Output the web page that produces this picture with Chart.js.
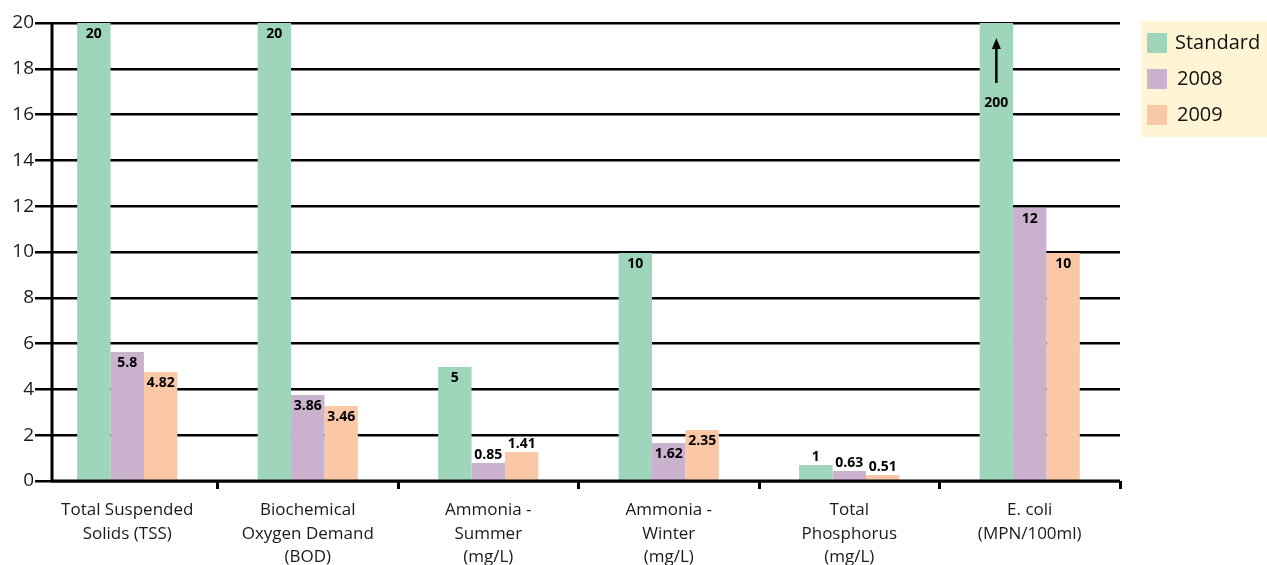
<!DOCTYPE html>
<html>
<head>
<meta charset="utf-8">
<script src="https://cdn.jsdelivr.net/npm/chart.js@4.4.1/dist/chart.umd.min.js"></script>
<style>
  html, body { margin: 0; padding: 0; background: #fff; }
  #wrap { width: 1267px; height: 565px; position: relative; }
</style>
</head>
<body>
<div id="wrap"><canvas id="waterChart"></canvas></div>
<script>
const categories = [
    ['Total Suspended', 'Solids (TSS)'],
    ['Biochemical', 'Oxygen Demand', '(BOD)'],
    ['Ammonia -', 'Summer', '(mg/L)'],
    ['Ammonia -', 'Winter', '(mg/L)'],
    ['Total', 'Phosphorus', '(mg/L)'],
    ['E. coli', '(MPN/100ml)']
]

// bar heights as drawn in the picture
const standardValues = [20, 20, 4.98, 9.96, 0.70, 200]
const values2008 = [5.63, 3.76, 0.79, 1.66, 0.44, 11.92]
const values2009 = [4.76, 3.28, 1.27, 2.23, 0.26, 9.96]

// value labels printed on the bars
const standardLabels = ['20', '20', '5', '10', '1', '200']
const labels2008 = ['5.8', '3.86', '0.85', '1.62', '0.63', '12']
const labels2009 = ['4.82', '3.46', '1.41', '2.35', '0.51', '10']

const yTicks = [0, 2, 4, 6, 8, 10, 12, 14, 16, 18, 20]

const colors = {
    standard: '#9fd5ba',
    y2008: '#cab2cf',
    y2009: '#fac8a6'
}

const FONT = '"Open Sans", "DejaVu Sans", sans-serif'

//Value labels on top of bars
const valueLabels = {
    id: 'valueLabels',
    afterDatasetsDraw(chart){
        const ctx = chart.ctx
        const yMax = chart.scales.y.max
        ctx.save()
        ctx.font = 'bold 14px ' + FONT
        ctx.fillStyle = '#000'
        ctx.textAlign = 'center'
        ctx.textBaseline = 'middle'
        chart.data.datasets.forEach((dataset, i) => {
            const meta = chart.getDatasetMeta(i)
            meta.data.forEach((bar, j) => {
                const text = dataset.valueLabels[j]
                if (dataset.data[j] > yMax) {
                    // off the scale: arrow pointing up plus value
                    const top = chart.chartArea.top
                    ctx.strokeStyle = '#000'
                    ctx.lineWidth = 2.5
                    ctx.beginPath()
                    ctx.moveTo(bar.x, top + 60)
                    ctx.lineTo(bar.x, top + 22)
                    ctx.stroke()
                    ctx.beginPath()
                    ctx.moveTo(bar.x, top + 15)
                    ctx.lineTo(bar.x - 4.5, top + 26)
                    ctx.lineTo(bar.x + 4.5, top + 26)
                    ctx.closePath()
                    ctx.fill()
                    ctx.fillText(text, bar.x, top + 80)
                    return
                }
                const height = bar.base - bar.y
                const y = height < 32 ? bar.y - 8 : bar.y + 11
                ctx.fillText(text, bar.x, y)
            })
        })
        ctx.restore()
    }
}

//Axis lines
const axisLines = {
    id: 'axisLines',
    afterDatasetsDraw(chart){
        const ctx = chart.ctx
        const area = chart.chartArea
        const zeroY = chart.scales.y.getPixelForValue(0)
        ctx.save()
        ctx.strokeStyle = '#000'
        ctx.lineWidth = 3
        ctx.beginPath()
        ctx.moveTo(52, area.top - 1)
        ctx.lineTo(52, zeroY + 1.5)
        ctx.moveTo(52, zeroY)
        ctx.lineTo(area.right, zeroY)
        ctx.stroke()
        ctx.restore()
    }
}

//Legend box
const boxLegend = {
    id: 'boxLegend',
    afterDraw(chart){
        const ctx = chart.ctx
        ctx.save()
        ctx.fillStyle = '#fff5d4'
        ctx.fillRect(1141, 21, 126, 116)
        ctx.font = '20px ' + FONT
        ctx.textBaseline = 'middle'
        ctx.textAlign = 'left'
        chart.data.datasets.forEach((dataset, i) => {
            const y = 33 + i * 36
            ctx.fillStyle = dataset.backgroundColor
            ctx.fillRect(1147, y, 20, 20)
            ctx.fillStyle = '#111'
            ctx.fillText(dataset.label, i === 0 ? 1175 : 1177, y + 10)
        })
        ctx.restore()
    }
}

const waterChart = new Chart(document.getElementById('waterChart'), {
    type: 'bar',
    data: {
        labels: categories,
        datasets: [
            { label: 'Standard', data: standardValues, valueLabels: standardLabels, backgroundColor: colors.standard },
            { label: '2008', data: values2008, valueLabels: labels2008, backgroundColor: colors.y2008 },
            { label: '2009', data: values2009, valueLabels: labels2009, backgroundColor: colors.y2009 }
        ]
    },
    options: {
        responsive: true,
        maintainAspectRatio: false,
        animation: false,
        layout: { padding: { top: 23, right: 147, left: 0, bottom: 0 } },
        datasets: {
            bar: { categoryPercentage: 0.555, barPercentage: 1, borderWidth: 0 }
        },
        plugins: {
            legend: { display: false },
            tooltip: { enabled: false }
        },
        scales: {
            x: {
                offset: true,
                border: { display: false },
                grid: {
                    drawOnChartArea: false,
                    drawTicks: true,
                    tickLength: 8,
                    lineWidth: 3,
                    color: (c) => c.index === 0 ? 'rgba(0,0,0,0)' : '#000'
                },
                ticks: {
                    color: '#1a1a1a',
                    padding: 10,
                    maxRotation: 0,
                    autoSkip: false,
                    font: { family: FONT, size: 17, lineHeight: 1.36 }
                },
                afterFit: (scale) => { scale.height = 84 }
            },
            y: {
                min: 0,
                max: 20,
                border: { display: false },
                afterBuildTicks: (scale) => { scale.ticks = yTicks.map(v => ({ value: v })) },
                grid: {
                    color: '#000',
                    lineWidth: 2.5,
                    tickLength: 2
                },
                ticks: {
                    color: '#1a1a1a',
                    padding: 1,
                    font: { family: FONT, size: 19 }
                },
                afterFit: (scale) => { scale.width = 37 }
            }
        }
    },
    plugins: [valueLabels, axisLines, boxLegend]
});
</script>
</body>
</html>
